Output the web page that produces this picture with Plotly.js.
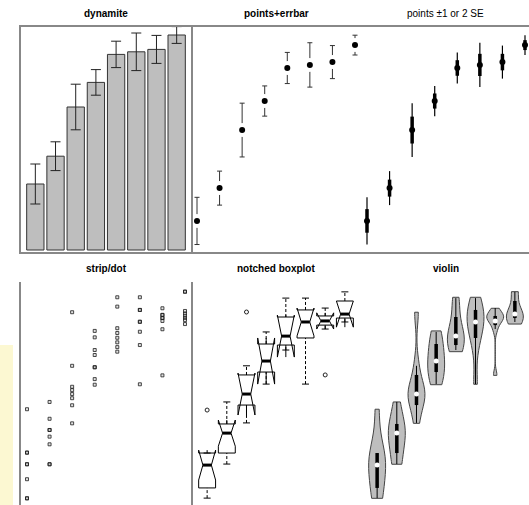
<!DOCTYPE html>
<html><head><meta charset="utf-8">
<script src="https://cdn.plot.ly/plotly-3.0.1.min.js"></script>
<style>html,body{margin:0;padding:0;overflow:hidden;background:#fff}#chart{width:560px;height:530px}</style>
</head><body><div id="chart"></div>
<script>
// ---------- data ----------
const groups = [1, 2, 3, 4, 5, 6, 7, 8];
const means = [3.30, 4.69, 7.15, 8.38, 9.78, 9.91, 10.03, 10.75];
const se = [0.50, 0.36, 0.57, 0.32, 0.33, 0.47, 0.35, 0.21];

const raw1 = [5.97, 3.88, 3.88, 3.32, 3.32, 2.60, 1.68, 1.68];
const raw2 = [6.32, 5.51, 4.97, 4.97, 4.65, 4.28, 3.32, 3.32];
const raw3 = [10.64, 8.06, 7.05, 6.89, 6.70, 6.50, 6.16, 5.29];
const raw4 = [9.74, 9.43, 8.82, 8.58, 7.99, 7.99, 7.42, 7.15];
const raw5 = [11.36, 10.91, 9.87, 9.64, 9.41, 9.19, 8.96, 8.74];
const raw6 = [11.36, 10.75, 10.75, 10.18, 10.18, 9.70, 9.06, 7.17];
const raw7 = [10.83, 10.51, 10.51, 10.36, 10.36, 10.22, 9.82, 7.60];
const raw8 = [11.63, 11.63, 10.70, 10.58, 10.47, 10.36, 10.26, 10.07];

const boxQ1     = [2.18, 3.86, 6.17, 7.76, 9.06, 9.40, 10.02, 10.36];
const boxMedian = [3.28, 4.82, 6.70, 8.29, 9.49, 10.17, 10.22, 10.55];
const boxQ3     = [3.86, 5.26, 7.62, 9.11, 10.41, 10.75, 10.46, 11.18];
const boxLower  = [1.69, 3.33, 5.31, 7.18, 8.82, 7.18, 9.83, 10.17];
const boxUpper  = [3.86, 6.32, 8.06, 9.69, 11.32, 11.32, 10.84, 11.62];
const boxNotch  = [0.72, 0.63, 1.01, 1.11, 1.01, 0.67, 0.39, 0.63];
const outlierGroup = [1, 3, 7];
const outlierValue = [5.93, 10.65, 7.62];

const titles = ['dynamite', 'points+errbar', 'points \u00b11 or 2 SE', 'strip/dot', 'notched boxplot', 'violin'];

// ---------- derived ----------
const rawGroups = [raw1, raw2, raw3, raw4, raw5, raw6, raw7, raw8];
const stripX = rawGroups.flatMap((g, i) => g.map(() => groups[i]));
const stripY = rawGroups.flat();
const seg = (lo, hi) => ({
  x: groups.flatMap(g => [g, g, null]),
  y: groups.flatMap((g, i) => [lo[i], hi[i], null])
});

// ---------- layout geometry ----------
const W = 560, H = 530;
const colPx = [[21, 191], [191, 361], [361, 531]];
const rowPx = [[27, 252], [282, 507]];
const xd = c => [colPx[c][0] / W, colPx[c][1] / W];
const yd = r => [1 - rowPx[r][1] / H, 1 - rowPx[r][0] / H];

const ink = '#000';
const traces = [];

// 1 dynamite
traces.push({type: 'bar', x: groups, y: means, width: 0.857, xaxis: 'x', yaxis: 'y',
  marker: {color: '#bebebe', line: {color: '#333', width: 1}},
  error_y: {type: 'data', array: se.map(s => 2 * s), color: '#222', thickness: 1, width: 5}});

// 2 points + errbar
traces.push({type: 'scatter', mode: 'markers', x: groups, y: means, xaxis: 'x2', yaxis: 'y2',
  marker: {size: 1, color: 'rgba(0,0,0,0)'},
  error_y: {type: 'data', array: se.map(s => 2 * s), color: '#333', thickness: 1, width: 2.5}});
traces.push({type: 'scatter', mode: 'markers', x: groups, y: means, xaxis: 'x2', yaxis: 'y2',
  marker: {size: 14, color: '#fff'}});
traces.push({type: 'scatter', mode: 'markers', x: groups, y: means, xaxis: 'x2', yaxis: 'y2',
  marker: {size: 6, color: ink}});

// 3 points +-1 or 2 SE
traces.push({type: 'scatter', mode: 'markers', x: groups, y: means, xaxis: 'x3', yaxis: 'y3',
  marker: {size: 1, color: 'rgba(0,0,0,0)'},
  error_y: {type: 'data', array: se.map(s => 2 * s), color: ink, thickness: 1.2, width: 0}});
traces.push({type: 'scatter', mode: 'markers', x: groups, y: means, xaxis: 'x3', yaxis: 'y3',
  marker: {size: 1, color: 'rgba(0,0,0,0)'},
  error_y: {type: 'data', array: se, color: ink, thickness: 3.5, width: 0}});
traces.push({type: 'scatter', mode: 'markers', x: groups, y: means, xaxis: 'x3', yaxis: 'y3',
  marker: {size: 6, color: ink}});

// 4 strip / dot
traces.push({type: 'scatter', mode: 'markers', x: stripX, y: stripY, xaxis: 'x4', yaxis: 'y4',
  marker: {symbol: 'square', size: 3, color: 'rgba(140,140,140,0.25)',
    line: {color: 'rgba(30,30,30,0.8)', width: 1}}});

// 5 notched boxplot
traces.push({type: 'box', x: groups, q1: boxQ1, median: boxMedian, q3: boxQ3,
  lowerfence: boxQ1, upperfence: boxQ3, notchspan: boxNotch, notched: true, notchwidth: 0.25,
  boxpoints: false, whiskerwidth: 0, width: 0.86, xaxis: 'x5', yaxis: 'y5',
  fillcolor: '#fff', line: {color: ink, width: 1}});
const wUp = seg(boxQ3, boxUpper), wLo = seg(boxLower, boxQ1);
traces.push({type: 'scatter', mode: 'lines', x: wUp.x.concat(wLo.x), y: wUp.y.concat(wLo.y),
  xaxis: 'x5', yaxis: 'y5', line: {color: ink, width: 1, dash: '3px,2px'}});
traces.push({type: 'scatter', mode: 'markers', x: groups.concat(groups), y: boxUpper.concat(boxLower),
  xaxis: 'x5', yaxis: 'y5', marker: {symbol: 'line-ew', size: 5, line: {color: ink, width: 1}}});
traces.push({type: 'scatter', mode: 'markers', x: groups, y: boxMedian, xaxis: 'x5', yaxis: 'y5',
  marker: {symbol: 'line-ew', size: 6, line: {color: ink, width: 3}}});
traces.push({type: 'scatter', mode: 'markers', x: outlierGroup, y: outlierValue, xaxis: 'x5', yaxis: 'y5',
  marker: {symbol: 'circle-open', size: 4, color: '#222', line: {width: 1}}});

// 6 violin: one trace per group so each is scaled to the same maximum width
rawGroups.forEach((g, i) => {
  traces.push({type: 'violin', x: g.map(() => groups[i]), y: g, xaxis: 'x6', yaxis: 'y6', width: 0.86,
    scalemode: 'width', spanmode: 'hard', points: false, box: {visible: false},
    meanline: {visible: false}, fillcolor: '#bebebe', line: {color: '#444', width: 1}});
});
const vThin = seg(boxLower, boxUpper), vThick = seg(boxQ1, boxQ3);
traces.push({type: 'scatter', mode: 'lines', x: vThin.x, y: vThin.y, xaxis: 'x6', yaxis: 'y6',
  line: {color: ink, width: 1}});
traces.push({type: 'scatter', mode: 'lines', x: vThick.x, y: vThick.y, xaxis: 'x6', yaxis: 'y6',
  line: {color: ink, width: 3.5}});
traces.push({type: 'scatter', mode: 'markers', x: groups, y: boxMedian, xaxis: 'x6', yaxis: 'y6',
  marker: {size: 5, color: '#fff'}});

// ---------- axes ----------
const ax = (domain, range) => ({domain, range, showline: true, mirror: true, linecolor: '#888',
  linewidth: 2, showticklabels: false, ticks: '', showgrid: false, zeroline: false, fixedrange: true});
const xr = {dyn: [0.29, 8.71], pts: [0.734, 8.266], box: [0.18, 8.82]};
const yrTopPts = [1.983, 11.517], yrDyn = [-0.1, 11.15], yrBot = [1.262, 12.095];

const layout = {
  width: W, height: H, margin: {l: 0, r: 0, t: 0, b: 0}, showlegend: false,
  paper_bgcolor: '#fff', plot_bgcolor: '#fff', hovermode: false, violinmode: 'overlay',
  font: {family: 'Liberation Sans, Arial, sans-serif', size: 10, color: '#000'},
  xaxis: ax(xd(0), xr.dyn), yaxis: ax(yd(0), yrDyn),
  xaxis2: ax(xd(1), xr.pts), yaxis2: ax(yd(0), yrTopPts),
  xaxis3: ax(xd(2), xr.pts), yaxis3: ax(yd(0), yrTopPts),
  xaxis4: ax(xd(0), xr.pts), yaxis4: ax(yd(1), yrBot),
  xaxis5: ax(xd(1), xr.box), yaxis5: ax(yd(1), yrBot),
  xaxis6: ax(xd(2), xr.box), yaxis6: ax(yd(1), yrBot),
  shapes: [{type: 'rect', xref: 'paper', yref: 'paper', x0: 0, x1: 13 / W, y0: 0, y1: 1 - 345 / H,
    fillcolor: '#fcf8d2', line: {width: 0}, layer: 'below'}],
  annotations: titles.map((t, i) => {
    const c = i % 3, r = Math.floor(i / 3);
    return {text: t, xref: 'paper', yref: 'paper', showarrow: false,
      x: (colPx[c][0] + colPx[c][1]) / 2 / W, y: 1 - (r === 0 ? 13.3 : 268.3) / H,
      xanchor: 'center', yanchor: 'middle',
      font: {size: 10, family: 'Liberation Sans, Arial, sans-serif', weight: i === 2 ? 'normal' : 'bold'}};
  })
};
Plotly.newPlot('chart', traces, layout, {staticPlot: true, displayModeBar: false});
</script></body></html>
